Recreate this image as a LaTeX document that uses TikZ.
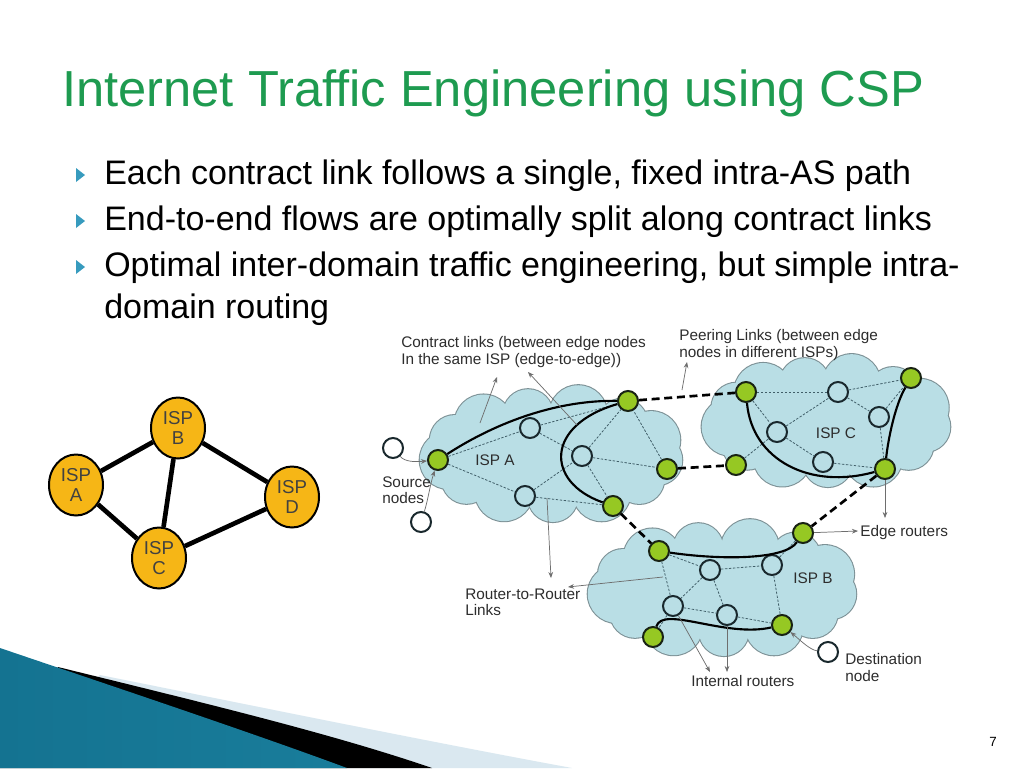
\documentclass[tikz,border=0pt]{standalone}
\usepackage{fontspec}
\setmainfont{Liberation Sans}
\usetikzlibrary{arrows.meta,shapes.geometric}
\definecolor{cloudfill}{RGB}{185,222,229}
\definecolor{cloudline}{RGB}{125,145,150}
\definecolor{enodefill}{RGB}{150,200,35}
\definecolor{enodeline}{RGB}{25,35,20}
\definecolor{nodeline}{RGB}{25,40,45}
\definecolor{rlinkc}{RGB}{65,95,105}
\definecolor{annotc}{RGB}{110,110,110}
\definecolor{titlec}{RGB}{30,155,80}
\definecolor{bulletc}{RGB}{55,155,190}
\definecolor{ispfill}{RGB}{246,182,22}
\definecolor{isptext}{RGB}{65,65,65}
\definecolor{labelc}{RGB}{45,45,45}
\definecolor{tealA}{RGB}{20,115,145}
\definecolor{tealB}{RGB}{80,180,212}
\definecolor{tealC}{RGB}{25,125,155}
\definecolor{lightband}{RGB}{218,232,240}
% cloud: centre x, centre y, inner semi-axis a, inner semi-axis b, number of puffs
\newcommand\mycloud[5]{%
  \foreach \i in {1,...,#5}{%
    \pgfmathsetmacro{\ang}{\i*360/#5+7}%
    \pgfmathsetmacro{\rad}{ifthenelse(mod(\i,2)==0,29,25)}%
    \path[cloudstroke] ({#1+#3*cos(\ang)},{#2+#4*sin(\ang)}) circle[radius=\rad];}%
  \foreach \i in {1,...,#5}{%
    \pgfmathsetmacro{\ang}{\i*360/#5+7}%
    \pgfmathsetmacro{\rad}{ifthenelse(mod(\i,2)==0,29,25)}%
    \path[cloudbody] ({#1+#3*cos(\ang)},{#2+#4*sin(\ang)}) circle[radius=\rad];}%
  \path[cloudbody] (#1,#2) ellipse[x radius=#3, y radius=#4];%
}
\begin{document}
\begin{tikzpicture}[x=0.75pt,y=-0.75pt,
  enode/.style={circle, draw=enodeline, line width=1.5pt, fill=enodefill, minimum size=15pt, inner sep=0pt},
  inode/.style={circle, draw=nodeline, line width=1.5pt, fill=cloudfill, minimum size=15pt, inner sep=0pt},
  xnode/.style={circle, draw=nodeline, line width=1.5pt, fill=white, minimum size=15pt, inner sep=0pt},
  ispnode/.style={ellipse, draw=black, line width=1.5pt, fill=ispfill, minimum width=40.5pt, minimum height=45.75pt, inner sep=0pt, align=center, text=isptext, font=\fontsize{14}{15.5}\selectfont},
  ispedge/.style={line width=3.5pt, black},
  rlink/.style={draw=rlinkc, line width=0.6pt, dash pattern=on 1.8pt off 1.2pt},
  clink/.style={draw=black, line width=1.6pt},
  plink/.style={draw=black, line width=2pt, dash pattern=on 6pt off 3.5pt},
  annot/.style={draw=annotc, line width=0.55pt, -{Stealth[length=4.5pt,width=3.5pt]}},
  lbl/.style={anchor=base west, inner sep=0pt, text=labelc, font=\fontsize{11.5}{14}\selectfont},
  isplbl/.style={anchor=center, inner sep=0pt, text=labelc, font=\fontsize{11.5}{14}\selectfont},
  bullettext/.style={anchor=base west, inner sep=0pt, font=\fontsize{25.5}{33}\selectfont},
  cloudstroke/.style={draw=cloudline, line width=1.6pt},
  cloudbody/.style={fill=cloudfill}
]
\useasboundingbox (0,0) rectangle (1024,768);
\fill[white] (0,0) rectangle (1024,768);

% bottom-left decoration
\fill[lightband] (100,675) .. controls (250,705) and (420,740) .. (572,768) -- (0,768) -- cycle;
\fill[black] (58,667) .. controls (200,702) and (330,733) .. (432,768) -- (0,768) -- cycle;
\shade[left color=tealA, middle color=tealB, right color=tealC] (0,648) .. controls (100,682) and (250,732) .. (347,768) -- (0,768) -- cycle;

% title and bullets
\node[anchor=base west, inner sep=0pt, text=titlec, font=\fontsize{38}{44}\selectfont] (title) at (62,106) {Internet Traffic Engineering using CSP};
\fill[bulletc] (76,168) -- (85,175) -- (76,182) -- cycle;
\fill[bulletc] (76,214) -- (85,221) -- (76,228) -- cycle;
\fill[bulletc] (76,260) -- (85,267) -- (76,274) -- cycle;
\node[bullettext] (bt1) at (104,184) {Each contract link follows a single, fixed intra-AS path};
\node[bullettext] (bt2) at (104,230) {End-to-end flows are optimally split along contract links};
\node[bullettext] (bt3) at (104,276) {Optimal inter-domain traffic engineering, but simple intra-};
\node[bullettext] (bt4) at (104,318) {domain routing};

% ISP graph
\node[ispnode] (ispA) at (76,485) {ISP\\A};
\node[ispnode] (ispB) at (178,428) {ISP\\B};
\node[ispnode] (ispC) at (159,558) {ISP\\C};
\node[ispnode] (ispD) at (292,497) {ISP\\D};
\draw[ispedge] (ispA) -- (ispB);
\draw[ispedge] (ispA) -- (ispC);
\draw[ispedge] (ispB) -- (ispC);
\draw[ispedge] (ispB) -- (ispD);
\draw[ispedge] (ispC) -- (ispD);

% clouds
\mycloud{553}{455}{105}{42}{13}
\mycloud{828}{422}{98}{40}{13}
\mycloud{724}{589}{108}{42}{13}

% cloud labels
\node[isplbl] (lispA) at (495,460) {ISP A};
\node[isplbl] (lispC) at (836,433) {ISP C};
\node[isplbl] (lispB) at (813,578) {ISP B};

% nodes ISP A
\node[enode] (aS) at (438,460) {};
\node[enode] (aT) at (628,401) {};
\node[inode] (a1) at (530,428) {};
\node[inode] (a2) at (582,456) {};
\node[inode] (a3) at (525,496) {};
\node[enode] (aR) at (667,469) {};
\node[enode] (aB) at (613,506) {};
\node[xnode] (src1) at (393,448) {};
\node[xnode] (src2) at (421,522) {};
% nodes ISP C
\node[enode] (c1) at (746,392) {};
\node[inode] (c2) at (838,392) {};
\node[enode] (c3) at (911,378) {};
\node[inode] (c4) at (879,417) {};
\node[inode] (c5) at (777,432) {};
\node[inode] (c6) at (823,462) {};
\node[enode] (c7) at (885,469) {};
\node[enode] (c8) at (736,465) {};
% nodes ISP B
\node[enode] (b1) at (659,551) {};
\node[inode] (b2) at (710,570) {};
\node[inode] (b3) at (673,606) {};
\node[inode] (b4) at (727,615) {};
\node[enode] (b5) at (653,637) {};
\node[enode] (b6) at (803,533) {};
\node[inode] (b7) at (772,565) {};
\node[enode] (b10) at (782,625) {};
\node[xnode] (dst) at (828,652) {};

% router-to-router links
\foreach \u/\v in {aS/a1, aS/a3, a1/aT, a1/a2, a3/a2, a2/aR, a2/aB, a3/aB, a2/aT, aR/aT,
                   c1/c2, c2/c3, c1/c5, c5/c2, c5/c6, c6/c7, c4/c3, c4/c7, c2/c4, c8/c5,
                   b1/b2, b1/b3, b2/b7, b2/b3, b2/b4, b3/b4, b3/b5, b4/b10, b7/b10, b7/b6}
  {\draw[rlink] (\u) -- (\v);}

% contract links
\draw[clink] (aS) .. controls (500,420) and (560,400) .. (aT);
\draw[clink] (aT) .. controls (545,425) and (545,482) .. (aB);
\draw[clink] (c1) .. controls (752,460) and (810,490) .. (c7);
\draw[clink] (c3) .. controls (895,405) and (888,440) .. (c7);
\draw[clink] (b1) .. controls (720,560) and (785,560) .. (b6);
\draw[clink] (b5) .. controls (663,605) and (725,638) .. (b10);

% peering links
\draw[plink] (aT) -- (c1);
\draw[plink] (aR) -- (c8);
\draw[plink] (c7) -- (b6);
\draw[plink] (aB) -- (b1);

% annotation arrows
\coordinate (ca1) at (480,423); \coordinate (ca1e) at (497,377);
\coordinate (ca2) at (577,425); \coordinate (ca2e) at (528,372);
\coordinate (pk) at (682,390);  \coordinate (pke) at (687,362);
\coordinate (rr1) at (547,498); \coordinate (rr1e) at (551,578);
\coordinate (rr2) at (663,577); \coordinate (rr2e) at (568,587);
\coordinate (ir1e) at (710,672); \coordinate (ir2e) at (727,672);
\coordinate (er1e) at (885,518); \coordinate (er2e) at (858,531);
\draw[annot] (ca1) -- (ca1e);
\draw[annot] (ca2) -- (ca2e);
\draw[annot] (pk) -- (pke);
\draw[annot] (rr1) -- (rr1e);
\draw[annot] (rr2) -- (rr2e);
\draw[annot] (b3) -- (ir1e);
\draw[annot] (b4) -- (ir2e);
\draw[annot] (c7) -- (er1e);
\draw[annot] (b6) -- (er2e);
\draw[annot] (src1) .. controls (405,462) and (415,462) .. (aS);
\draw[annot] (src2) .. controls (428,500) and (430,485) .. (aS);
\draw[annot] (dst) .. controls (810,650) and (800,640) .. (b10);

% labels
\node[lbl] (lc1) at (401,347) {Contract links (between edge nodes};
\node[lbl] (lc2) at (401,364) {In the same ISP (edge-to-edge))};
\node[lbl] (lp1) at (679,340) {Peering Links (between edge};
\node[lbl] (lp2) at (679,357) {nodes in different ISPs)};
\node[lbl] (ls1) at (382,487) {Source};
\node[lbl] (ls2) at (382,503) {nodes};
\node[lbl] (lr1) at (465,599) {Router-to-Router};
\node[lbl] (lr2) at (465,615) {Links};
\node[lbl] (li) at (691,686) {Internal routers};
\node[lbl] (le) at (860,536) {Edge routers};
\node[lbl] (ld1) at (845,664) {Destination};
\node[lbl] (ld2) at (845,681) {node};

\node[anchor=center, inner sep=0pt, font=\fontsize{10}{12}\selectfont] (pnum) at (993,742) {7};
\end{tikzpicture}
\end{document}
